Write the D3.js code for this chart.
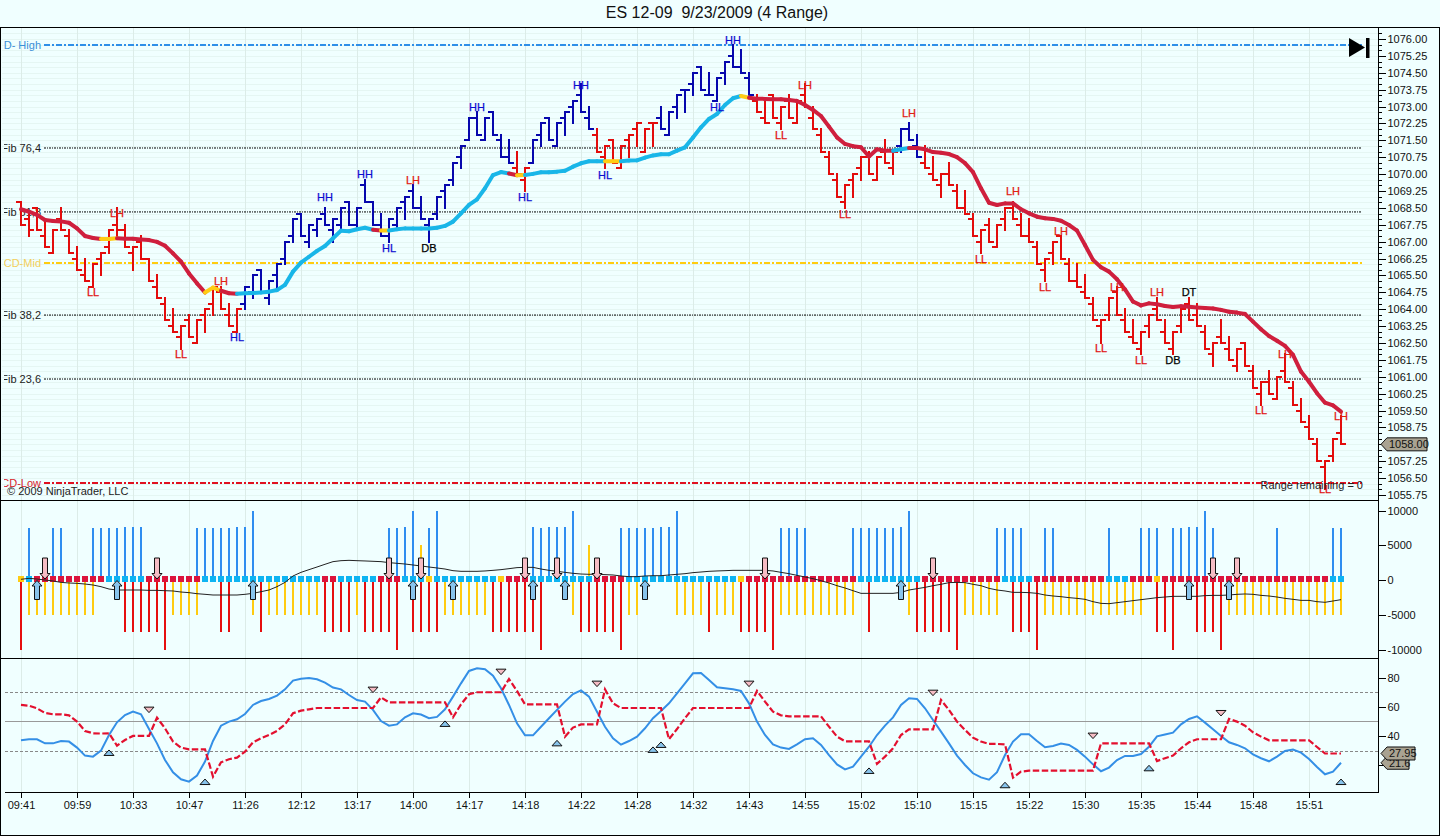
<!DOCTYPE html>
<html><head><meta charset="utf-8">
<script src="https://cdn.jsdelivr.net/npm/d3@7"></script>
<style>
html,body{margin:0;padding:0;background:#f0ffff;overflow:hidden}
svg{display:block}
text{font-family:"Liberation Sans",Arial,sans-serif}
</style></head><body>
<svg id="c" width="1440" height="836"></svg>
<script>
// ---------- data ----------
const titleText = "ES 12-09  9/23/2009 (4 Range)";
const timeLabels = ["09:41","09:59","10:33","10:47","11:26","12:12","13:17","14:00","14:17","14:18","14:22","14:28","14:32","14:43","14:55","15:02","15:10","15:15","15:22","15:30","15:35","15:44","15:48","15:51"];

const barHigh = [1068.75,1068.25,1068.5,1068,1067.5,1068.5,1067.5,1066.75,1066.25,1066,
1066.5,1067.5,1068.5,1067.75,1066.75,1067.25,1066.25,1065.5,1064.5,1064,
1063.25,1063.75,1063.5,1064,1065,1065,1064.25,1064,1065,1065.5,
1065.75,1065.25,1066,1067,1068,1068.25,1067.75,1068,1068.5,1068,
1068.5,1068.75,1068.5,1069.75,1068.75,1068.25,1068,1068.5,1069,1069.5,
1069,1068,1069,1069.5,1070.5,1071.25,1072.5,1072.75,1072.5,1072.75,
1071.75,1071.5,1071,1070.25,1071.5,1072.25,1072.5,1072.25,1072.75,1073.25,
1074,1073,1072,1071.25,1071.5,1071.25,1071.75,1072.25,1072,1072.25,
1073,1072.75,1073.5,1073.75,1074.5,1074.75,1074.5,1074.25,1075,1075.75,
1075.5,1074.5,1073.5,1073.25,1073.5,1073,1073.5,1073.25,1074,1073,
1072,1071,1070,1069.5,1070,1070.75,1071,1070.75,1071.5,1071,
1072,1072.25,1071.75,1071.25,1070.75,1070,1070.5,1069.5,1069.25,1068.25,
1067.5,1068,1067.75,1068.5,1068.75,1068.25,1068,1067,1066.25,1067,
1067.25,1066.25,1066,1065.5,1064.5,1063.5,1064.5,1065,1064,1063.5,
1063,1063.75,1064.5,1063.5,1063,1064,1064.5,1064.25,1063.25,1062.5,
1063.5,1062.75,1062.25,1062.5,1061.5,1060.75,1061.25,1061,1062,1060.75,
1060,1059.25,1058.25,1057.25,1058.25,1059.25];

const barLow = [1067.75,1067.25,1067.5,1066.75,1066.5,1067.5,1066.5,1065.75,1065.25,1065,
1065.5,1066.5,1067.25,1066.75,1065.75,1066.25,1065.25,1064.5,1063.5,1063,
1062.25,1062.75,1062.5,1063,1063.75,1064,1063.25,1063,1064,1064.5,
1064.75,1064.25,1065,1066,1067,1067.25,1066.75,1067.25,1067.75,1067,
1067.5,1067.75,1067.5,1068.75,1067.75,1067.25,1067,1067.5,1068,1068.5,
1068,1067,1068,1068.5,1069.5,1070.25,1071.5,1071.75,1071.5,1071.75,
1070.75,1070.5,1070,1069.25,1070.5,1071.25,1071.5,1071.25,1071.75,1072.25,
1072.75,1072,1071,1070.25,1070.5,1070.25,1070.75,1071.25,1071,1071.25,
1072,1071.75,1072.5,1072.75,1073.5,1073.75,1073.5,1073.25,1074,1074.75,
1074.5,1073.5,1072.75,1072.25,1072.5,1072,1072.5,1072.25,1073,1072,
1071,1070,1069,1068.5,1069,1069.75,1070,1069.75,1070.5,1070,
1071,1071.5,1070.75,1070.25,1069.75,1069,1069.5,1068.5,1068.25,1067.25,
1066.5,1067,1066.75,1067.5,1068,1067.25,1067,1066,1065.25,1066,
1066.25,1065.25,1065,1064.5,1063.5,1062.5,1063.5,1063.75,1063,1062.5,
1062,1062.75,1063.5,1062.5,1062,1063,1063.5,1063.25,1062.25,1061.5,
1062.5,1061.75,1061.25,1061.5,1060.5,1059.75,1060.25,1060,1060.75,1059.75,
1059,1058.25,1057.25,1056,1057.25,1058];

const barOpen = [1068.75,1068,1068.5,1067.25,1066.5,1068,1067.25,1066.25,1065.5,1065,
1066.25,1066.75,1067.75,1067.5,1066.5,1067,1066.25,1065,1064.25,1063.25,
1062.75,1063.5,1062.5,1063.75,1064.25,1064.75,1063.75,1063,1064.25,1064.75,
1065.75,1064.5,1065.5,1066.25,1067.25,1068.25,1067,1067.5,1068.25,1067.5,
1067.75,1068.75,1067.75,1069.5,1068.75,1067.75,1067.25,1067.75,1068.75,1069.25,
1068.5,1067.75,1068.25,1069.25,1069.75,1070.75,1071.5,1072.5,1071.5,1072.75,
1071.5,1070.75,1070.25,1069.75,1070.5,1071.75,1072.5,1071.25,1072.5,1073,
1073.5,1072.5,1071.75,1070.75,1071.5,1070.25,1071.5,1072,1071,1072.25,
1072.5,1071.75,1073,1073.75,1074,1074.75,1073.5,1073.25,1074.5,1075.25,
1074.75,1074.25,1073.25,1072.5,1073.5,1072.25,1073.25,1072.25,1073.5,1072.5,
1071.75,1070.75,1069.75,1068.75,1069.75,1070.25,1070.75,1069.75,1071,1070.25,
1071.25,1072,1071.25,1070.5,1070,1069.5,1070,1069.25,1068.5,1068,
1067,1067.75,1066.75,1068,1068.5,1067.75,1067.25,1066.75,1065.75,1066.5,
1067.25,1066,1065.25,1064.75,1064.25,1063.25,1063.75,1064.75,1063.5,1062.75,
1062.25,1063.25,1064,1063,1062.25,1063.25,1064.25,1063.75,1063,1062,
1062.75,1062.25,1061.5,1062.5,1061.25,1060.25,1060.75,1060,1061.25,1060.5,
1059.5,1058.75,1058,1057,1057.5,1058.5];

const barClose = [1067.75,1067.5,1067.5,1066.75,1067.5,1067.5,1066.5,1065.75,1065.25,1066,
1066.5,1067.5,1067.5,1066.75,1066.75,1066.25,1065.25,1064.5,1063.5,1063,
1063.25,1062.75,1063.5,1064,1065,1064,1063.25,1064,1065,1065.5,
1064.75,1065.25,1066,1067,1068,1067.25,1067.75,1068,1067.75,1068,
1068.5,1067.75,1068.5,1068.75,1067.75,1067.25,1068,1068.5,1069,1068.5,
1068,1068,1069,1069.5,1070.5,1071.25,1072.5,1071.75,1072.5,1071.75,
1070.75,1070.5,1070,1070.25,1071.5,1072.25,1071.5,1072.25,1072.75,1073.25,
1072.75,1072,1071,1071.25,1070.5,1071.25,1071.75,1072.25,1072,1072.25,
1072,1072.75,1073.5,1073.75,1074.5,1073.75,1073.5,1074.25,1075,1074.75,
1074.5,1073.5,1072.75,1072.25,1072.5,1073,1072.5,1073.25,1073,1072,
1071,1070,1069,1069.5,1070,1070.75,1070,1070.75,1070.5,1071,
1072,1071.5,1070.75,1070.25,1069.75,1070,1069.5,1068.5,1068.25,1067.25,
1067.5,1067,1067.75,1068.5,1068,1067.25,1067,1066,1066.25,1067,
1066.25,1065.25,1065,1064.5,1063.5,1063.5,1064.5,1063.75,1063,1062.5,
1063,1063.75,1063.5,1062.5,1063,1064,1063.5,1063.25,1062.25,1062.5,
1062.5,1061.75,1062.25,1061.5,1060.5,1060.75,1060.25,1061,1060.75,1059.75,
1059,1058.25,1057.25,1057.25,1058.25,1058];

const blueBarRanges = [[28,61],[64,71],[80,91],[110,112]];

const maValues = [1068.44,1068.33,1068.19,1067.96,1067.92,1067.90,1067.84,1067.59,1067.25,1067.16,
1067.12,1067.12,1067.15,1067.13,1067.13,1067.10,1067.07,1066.99,1066.82,1066.48,
1066.11,1065.59,1065.15,1064.74,1064.96,1064.82,1064.71,1064.69,1064.71,1064.72,
1064.74,1064.78,1064.85,1065.08,1065.67,1066.07,1066.33,1066.59,1066.81,1067.15,
1067.49,1067.46,1067.55,1067.62,1067.53,1067.50,1067.50,1067.55,1067.59,1067.59,
1067.58,1067.58,1067.62,1067.70,1067.89,1068.26,1068.63,1068.88,
1069.37,1069.96,1070.09,1070.03,1069.95,1069.96,1070.01,1070.08,1070.08,1070.11,
1070.15,1070.33,1070.48,1070.57,1070.57,1070.57,1070.57,1070.57,1070.60,1070.61,
1070.73,1070.83,1070.88,1070.88,1071.04,1071.19,1071.63,1072.08,1072.45,1072.67,
1073.07,1073.37,1073.47,1073.39,1073.35,1073.34,1073.32,1073.32,1073.29,1073.25,
1073.07,1072.85,1072.58,1072.11,1071.63,1071.34,1071.24,1071.19,1070.78,1071.10,
1071.04,1071.04,1071.10,1071.16,1071.16,1071.10,1070.98,1070.95,1070.89,1070.75,
1070.49,1070.09,1069.37,1068.73,1068.63,1068.70,1068.70,1068.44,1068.26,1068.11,
1068.04,1068.01,1067.93,1067.74,1067.49,1066.85,1066.19,1065.86,1065.67,1065.33,
1064.88,1064.34,1064.17,1064.26,1064.22,1064.14,1064.10,1064.13,1064.11,1064.08,
1064.05,1064.03,1063.97,1063.89,1063.85,1063.79,1063.45,1063.11,1062.81,1062.60,
1062.37,1061.97,1061.23,1060.78,1060.27,1059.85,1059.73,1059.45];

const maGoldRanges = [[10,12],[23,25],[45,46],[62,63],[73,75],[90,91]];
const maCyanRanges = [[27,44],[46,61],[63,73],[75,90],[109,111]];

const swingLabels = [["LL",9,1064.78],["LH",12,1068.26],["LL",20,1062.01],["LH",25,1065.25],["HL",27,1062.78],
["HH",38,1069.0],["HH",43,1070.0],["LH",49,1069.74],["HL",46,1066.7],["DB",51,1066.7],["HH",57,1073.0],
["HL",63,1069.0],["HH",70,1073.96],["HL",73,1069.96],["HH",89,1075.96],["HL",87,1072.97],["LH",98,1073.94],
["LL",95,1071.74],["LH",111,1072.7],["LL",103,1068.23],["LH",124,1069.25],["LL",120,1066.23],["LH",130,1067.47],
["LL",128,1064.97],["LL",135,1062.26],["LH",137,1064.97],["LH",142,1064.75],["DT",146,1064.75],["LL",140,1061.75],
["DB",144,1061.75],["LH",158,1062.0],["LL",155,1059.52],["LH",165,1059.27],["LL",163,1056.0]];

const levelNames = ["CD- High","Fib 76,4","Fib 61,8","CD-Mid","Fib 38,2","Fib 23,6","CD-Low"];
const levelPrices = [1075.73,1071.16,1068.32,1066.05,1063.74,1060.90,1056.28];
const levelColors = ["#2f8fe8","#000000","#000000","#ffcc10","#000000","#000000","#e01020"];
const levelTextColors = ["#3a8fd8","#222222","#222222","#f3cf5a","#222222","#222222","#d8242c"];
const levelDash = ["6,2,2,2","2,1,1,1","2,1,1,1","6,2,2,2","2,1,1,1","2,1,1,1","6,2,2,2"];
const levelWidth = [2,1,1,2,1,1,2];

const priceTicks = d3.range(0,28).map(k=>1055.75+0.75*k);
const lastPrice = 1058.00;

// volume panel
const volBlueIdx = [1,4,5,9,10,11,12,13,14,15,22,23,24,25,26,27,28,29,46,47,48,49,51,52,64,65,66,67,68,69,75,76,77,78,79,80,81,82,95,96,97,98,104,105,106,107,108,109,110,111,122,123,124,125,128,129,136,140,141,142,144,145,146,147,148,149,157,164,165];
const volBlueVal = [7500,7500,7500,7500,7500,7500,7500,7650,7650,7650,7500,7500,7500,7500,7500,7650,7650,10000,7500,7500,7650,10000,7500,10000,7650,7500,7650,7650,7650,10000,7500,7500,7500,7500,7500,7650,7650,10000,7500,7500,7500,7500,7500,7500,7500,7500,7500,7500,7650,10000,7500,7500,7500,7500,7500,7500,7500,7500,7500,7500,7500,7500,7650,7650,10000,7500,7500,7500,7500];
const volGoldUpIdx = [50,71];
const volGoldUpVal = [5000,5000];
const volGoldDownIdx = [1,2,3,4,5,6,7,8,9,19,20,21,22,29,31,32,33,34,35,36,37,42,53,54,55,56,57,58,69,76,77,82,83,84,85,87,88,89,95,96,97,98,99,100,101,102,103,104,111,118,119,120,121,122,128,129,130,131,132,133,134,135,136,137,138,139,140,151,152,153,154,155,156,157,158,159,160,161,162,163,164,165];
const volGoldDownVal = -5000;
const volRedIdx = [0,13,14,15,16,17,18,25,26,30,38,39,40,41,43,44,45,46,47,49,50,51,52,59,60,61,62,63,64,65,70,71,72,73,74,75,86,90,91,92,93,94,106,112,113,114,115,116,117,124,125,126,127,142,143,144,147,148,149,150];
const volRedVal = [-10000,-7500,-7500,-7500,-7500,-7500,-10000,-7500,-7500,-7500,-7500,-7500,-7500,-7500,-7500,-7500,-7500,-7500,-10000,-7500,-7500,-7500,-7500,-7500,-7500,-7500,-7500,-7500,-7500,-10000,-7500,-7500,-7500,-7500,-7500,-10000,-7500,-7500,-7500,-7500,-7500,-10000,-7500,-7500,-7500,-7500,-7500,-7500,-10000,-7500,-7500,-7500,-10000,-7500,-7500,-10000,-7500,-7500,-7500,-10000];
const trendGoldIdx = [0,51,60,90,142];
const trendCyanRanges = [[1,1],[11,15],[23,37],[40,44],[48,50],[52,59],[64,71],[76,89],[105,112],[123,126],[136,138],[164,165]];
const volLine = [100,240,140,0,-140,-340,-430,-480,-580,-720,-960,-1300,-1440,-1440,-1440,-1440,-1490,-1490,-1540,-1580,
-1730,-1820,-1970,-2060,-2160,-2160,-2160,-2160,-2060,-1920,-1680,-1440,-960,-340,580,1100,1490,1870,2260,2640,
2780,2830,2780,2740,2690,2640,2500,2400,2300,2160,2020,1870,1730,1580,1340,1250,1250,1250,1300,1390,
1490,1630,1780,1820,1820,1580,1390,1250,1100,960,860,820,820,770,720,580,480,480,580,620,
620,720,820,910,1060,1150,1250,1300,1340,1390,1390,1390,1390,1390,1300,1100,910,670,430,190,
-100,-430,-820,-1150,-1540,-1920,-1920,-1920,-1920,-1920,-1780,-1440,-1250,-1060,-820,-620,-380,-340,-380,-620,
-820,-1200,-1440,-1580,-1780,-1780,-1820,-1920,-2160,-2300,-2400,-2540,-2640,-2780,-3120,-3360,-3410,-3260,-3120,-2970,
-2830,-2690,-2540,-2450,-2350,-2350,-2350,-2350,-2250,-2210,-2210,-2160,-2060,-2010,-2060,-2210,-2300,-2450,-2640,-2780,
-2930,-2930,-3120,-3210,-3020,-2830];
const sellArrowIdx = [3,17,46,50,63,67,72,93,114,149,152];
const buyArrowIdx = [2,12,29,49,54,64,68,78,110,146,151];
const volTicks = [10000,5000,0,-5000,-10000];

// oscillator panel
const oscBlue = [37.0,37.7,37.7,34.9,34.9,36.5,36.1,32.0,26.5,25.8,29.9,40.6,49.3,54.3,56.6,54.8,44.7,34.9,23.5,15.1,
10.3,8.7,12.8,22.4,36.5,47.0,49.8,51.4,55.0,61.2,63.9,65.3,67.6,71.9,77.9,79.2,79.7,78.8,76.5,73.1,
71.9,68.0,64.6,63.5,57.8,50.2,47.0,47.9,52.7,55.5,54.6,52.1,53.0,58.2,66.9,76.0,84.5,86.3,
85.6,81.3,72.6,61.2,48.6,40.4,40.4,46.3,52.1,57.8,63.5,68.7,71.2,66.9,56.6,46.3,38.4,34.0,36.5,39.5,
45.2,52.1,57.1,62.3,69.2,76.0,82.9,83.1,78.3,73.3,72.6,71.9,70.8,62.3,49.8,40.6,34.2,32.0,31.1,34.2,
37.7,38.4,33.8,26.9,20.5,17.1,18.9,25.8,32.6,40.6,47.0,52.7,61.2,65.8,65.3,58.9,50.9,42.9,34.9,26.5,
20.1,14.4,11.6,10.0,15.1,26.9,36.1,41.1,41.1,36.5,32.2,33.1,34.7,33.8,30.4,25.8,20.5,15.8,18.3,23.5,
26.3,26.3,27.6,32.6,39.7,40.9,42.2,47.9,51.6,53.4,49.1,44.5,40.0,35.6,33.8,31.5,27.4,24.7,22.6,25.8,
29.7,30.6,28.5,24.2,18.7,13.7,15.5,21.6];
const oscRed = [61.2,60.7,58.9,55.7,54.8,54.8,54.1,49.8,43.4,41.8,41.6,41.8,33.3,37.2,40.0,40.0,40.0,52.5,45.2,36.1,
32.0,30.8,30.8,30.8,12.1,21.9,24.0,25.1,29.2,35.6,38.4,40.6,43.4,47.9,55.5,57.3,58.2,59.1,59.1,59.1,
59.1,59.1,59.1,59.1,59.1,66.4,63.0,63.0,63.0,63.0,63.0,63.0,63.0,63.0,52.7,61.6,68.5,69.9,
69.9,69.9,69.9,79.0,70.8,61.6,61.6,61.6,61.6,61.6,39.5,45.7,47.9,47.9,47.9,71.9,62.3,59.1,59.1,59.1,
59.1,59.1,59.1,37.7,44.7,52.1,59.1,59.1,59.1,59.1,59.1,59.1,59.1,59.1,70.8,63.5,56.6,54.1,53.4,53.4,
53.4,53.4,53.4,46.3,39.5,36.3,36.3,36.3,36.3,20.8,25.8,31.5,40.6,44.5,44.5,44.5,44.5,64.6,57.8,49.8,
44.1,38.8,36.1,34.5,34.5,34.2,11.4,15.5,16.2,16.2,16.2,16.2,16.2,16.2,16.2,16.2,16.2,34.9,34.9,34.9,
34.9,34.9,34.9,34.9,22.8,24.7,26.5,31.5,35.6,37.7,37.7,37.7,37.7,51.6,49.8,47.0,42.5,39.5,37.0,37.0,
37.0,37.0,37.0,37.0,32.4,27.95,27.95,27.95];
const oscUpIdx = [11,23,53,67,79,80,106,123,141,165];
const oscUpVal = [28.3,8.4,48.2,34.9,30.4,33.8,16.0,6.2,17.8,8.4];
const oscDownIdx = [16,44,60,72,91,114,134,150];
const oscDownVal = [58.0,71.7,84.0,75.8,75.8,69.6,40.2,55.7];
const oscTicks = [80,60,40,20];
const oscLevelsDashed = [70,30];
const oscLevelSolid = 50;
const oscTags = [[27.95,"27.95"],[21.6,"21.6"]];

// ---------- layout ----------
const W=1440,H=836, axisX=1378.5, leftX=2;
const nBars = barHigh.length;
const tickEvery = 7;
const x = d3.scaleLinear().domain([0,nBars-1]).range([21,1341]);
const yP = d3.scaleLinear().domain([1076,1055.75]).range([39,495]);
const yV = d3.scaleLinear().domain([10000,-10000]).range([510.5,649.5]);
const yO = d3.scaleLinear().domain([80,20]).range([677.5,765.1]);
const topP=27.5, botP=500.5, botV=658.5, botO=792.5;

const C = {red:"#e30c0c",navy:"#0707ad",crimson:"#cf1f3d",cyan:"#19b6e8",gold:"#ffcc14",sqRed:"#dc143c",sqCyan:"#0db4f2",
  vBlue:"#2f8df0",vGold:"#ffcb10",vRed:"#e60f0f",gridH:"#e5f6f3",gridV:"#dcecE8",pink:"#f5bcc4",lblue:"#88c4ec"};

const svg=d3.select("#c");
svg.append("rect").attr("width",W).attr("height",H).attr("fill","#f0ffff");
const defs=svg.append("defs");
defs.append("clipPath").attr("id","lab").append("rect").attr("x",4).attr("y",28).attr("width",axisX-4).attr("height",472);
defs.append("clipPath").attr("id","pp").append("rect").attr("x",1).attr("y",28).attr("width",axisX-1).attr("height",472);

// grids
const gridG=svg.append("g").attr("stroke-width",1).attr("shape-rendering","crispEdges");
gridG.append("g").attr("stroke",C.gridH).selectAll("line").data(d3.range(0,83).map(k=>1055.75+0.25*k)).join("line")
  .attr("x1",leftX).attr("x2",axisX).attr("y1",d=>Math.round(yP(d))+.5).attr("y2",d=>Math.round(yP(d))+.5);
const tickIdx=timeLabels.map((_,k)=>k*tickEvery);
[[topP,botP],[botP,botV],[botV,botO]].forEach(([a,b])=>{
  gridG.append("g").attr("stroke",C.gridV).selectAll("line").data(tickIdx).join("line")
   .attr("x1",d=>Math.round(x(d))+.5).attr("x2",d=>Math.round(x(d))+.5).attr("y1",a).attr("y2",b);
});

// level lines
const lev=svg.append("g");
levelPrices.forEach((p,k)=>{
  lev.append("line").attr("x1",44).attr("x2",1362).attr("y1",yP(p)).attr("y2",yP(p))
   .attr("stroke",levelColors[k]).attr("stroke-width",levelWidth[k]).attr("stroke-dasharray",levelDash[k]);
  lev.append("text").attr("x",41).attr("y",yP(p)+4).attr("text-anchor","end").attr("font-size",11)
   .attr("fill",levelTextColors[k]).attr("clip-path","url(#lab)").text(levelNames[k]);
});

// price bars
const isBlue=i=>blueBarRanges.some(([a,b])=>i>=a&&i<=b);
const bars=svg.append("g").attr("stroke-width",2).attr("shape-rendering","crispEdges").attr("clip-path","url(#pp)");
const bg=bars.selectAll("g").data(d3.range(nBars)).join("g").attr("stroke",i=>isBlue(i)?C.navy:C.red);
bg.append("line").attr("x1",i=>x(i)).attr("x2",i=>x(i)).attr("y1",i=>yP(barHigh[i])-1).attr("y2",i=>yP(barLow[i])+1);
bg.append("line").attr("x1",i=>x(i)-5).attr("x2",i=>x(i)).attr("y1",i=>yP(barOpen[i])).attr("y2",i=>yP(barOpen[i]));
bg.append("line").attr("x1",i=>x(i)).attr("x2",i=>x(i)+5).attr("y1",i=>yP(barClose[i])).attr("y2",i=>yP(barClose[i]));

// moving average, coloured in pieces
const inR=(r,i)=>r.some(([a,b])=>i>=a&&i<b);
const maG=svg.append("g").attr("fill","none").attr("stroke-width",4).attr("stroke-linecap","round");
d3.range(nBars-1).forEach(i=>{
  const col=inR(maGoldRanges,i)?C.gold:inR(maCyanRanges,i)?C.cyan:C.crimson;
  maG.append("line").attr("x1",x(i)).attr("x2",x(i+1)).attr("y1",yP(maValues[i])).attr("y2",yP(maValues[i+1])).attr("stroke",col);
});

// swing labels
const lblCol={HH:"#0b0bd0",HL:"#0b0bd0",LL:"#e01010",LH:"#e02010",DB:"#000",DT:"#000"};
svg.append("g").selectAll("text").data(swingLabels).join("text")
 .attr("x",d=>x(d[1])).attr("y",d=>yP(d[2])+4).attr("text-anchor","middle").attr("font-size",11)
 .attr("fill",d=>lblCol[d[0]]).attr("stroke",d=>lblCol[d[0]]).attr("stroke-width",.25).text(d=>d[0]);

// texts in price panel
svg.append("text").attr("x",7).attr("y",495).attr("font-size",11).attr("fill","#222").text("\u00a9 2009 NinjaTrader, LLC");
svg.append("text").attr("x",1363).attr("y",489).attr("text-anchor","end").attr("font-size",11).attr("fill","#222").text("Range remaining = 0");

// go-to-end icon (fixed chrome)
svg.append("path").attr("d","M1349,38L1365,47.5L1349,57Z").attr("fill","#000");
svg.append("rect").attr("x",1366).attr("y",38).attr("width",3.5).attr("height",20).attr("fill","#000");

// volume panel
const vb=svg.append("g").attr("stroke-width",2).attr("shape-rendering","crispEdges");
function vbars(idx,vals,col){
  vb.append("g").attr("stroke",col).selectAll("line").data(idx).join("line")
   .attr("x1",d=>x(d)).attr("x2",d=>x(d)).attr("y1",yV(0))
   .attr("y2",(d,k)=>yV(Array.isArray(vals)?vals[k]:vals));
}
vbars(volGoldDownIdx,volGoldDownVal,C.vGold);
vbars(volGoldUpIdx,volGoldUpVal,C.vGold);
vbars(volRedIdx,volRedVal,C.vRed);
vbars(volBlueIdx,volBlueVal,C.vBlue);
const sqCol=i=>trendGoldIdx.includes(i)?"#ffcc14":trendCyanRanges.some(([a,b])=>i>=a&&i<=b)?C.sqCyan:C.sqRed;
svg.append("g").attr("shape-rendering","crispEdges").selectAll("rect").data(d3.range(nBars)).join("rect")
 .attr("x",i=>x(i)-3).attr("y",Math.round(yV(0))-4).attr("width",6).attr("height",6).attr("fill",sqCol);
svg.append("path").datum(volLine).attr("fill","none").attr("stroke","#222").attr("stroke-width",1)
 .attr("d",d3.line().x((d,i)=>x(i)).y(d=>yV(d)));
const arrowG=svg.append("g").attr("stroke","#111").attr("stroke-width",1);
arrowG.append("g").selectAll("path").data(sellArrowIdx).join("path")
 .attr("transform",d=>`translate(${x(d)},${yV(0)-1})`).attr("fill",C.pink)
 .attr("d","M-2.5,-21L2.5,-21L2.5,-5.5L5,-5.5L0,0L-5,-5.5L-2.5,-5.5Z");
arrowG.append("g").selectAll("path").data(buyArrowIdx).join("path")
 .attr("transform",d=>`translate(${x(d)},${yV(0)+0.5})`).attr("fill",C.lblue)
 .attr("d","M-2.5,19L2.5,19L2.5,5.5L5,5.5L0,0L-5,5.5L-2.5,5.5Z");

// oscillator
const oscG=svg.append("g");
oscLevelsDashed.forEach(v=>oscG.append("line").attr("x1",leftX+3).attr("x2",axisX).attr("y1",Math.round(yO(v))+.5).attr("y2",Math.round(yO(v))+.5)
  .attr("stroke","#888").attr("stroke-dasharray","3,2"));
oscG.append("line").attr("x1",leftX+3).attr("x2",axisX).attr("y1",Math.round(yO(oscLevelSolid))+.5).attr("y2",Math.round(yO(oscLevelSolid))+.5).attr("stroke","#999");
const lineO=d3.line().x((d,i)=>x(i)).y(d=>yO(d));
svg.append("path").datum(oscBlue).attr("fill","none").attr("stroke","#348fe6").attr("stroke-width",2).attr("d",lineO);
svg.append("path").datum(oscRed).attr("fill","none").attr("stroke","#e3102f").attr("stroke-width",2.2).attr("stroke-dasharray","6.5,2.5").attr("d",lineO);
const tri=svg.append("g").attr("stroke","#111").attr("stroke-width",1);
tri.append("g").selectAll("path").data(oscUpIdx).join("path")
 .attr("transform",(d,k)=>`translate(${x(d)},${yO(oscUpVal[k])})`).attr("fill",C.lblue).attr("d","M-5,2.5L5,2.5L0,-3Z");
tri.append("g").selectAll("path").data(oscDownIdx).join("path")
 .attr("transform",(d,k)=>`translate(${x(d)},${yO(oscDownVal[k])})`).attr("fill",C.pink).attr("d","M-5,-2.5L5,-2.5L0,3Z");

// frames
const fr=svg.append("g").attr("stroke","#000").attr("stroke-width",1).attr("shape-rendering","crispEdges");
[[0,W,topP],[0,axisX,botP],[0,axisX,botV],[5,axisX,botO]].forEach(([a,b,y])=>fr.append("line").attr("x1",a).attr("x2",b).attr("y1",y).attr("y2",y));
fr.append("line").attr("x1",axisX).attr("x2",axisX).attr("y1",topP).attr("y2",botO);
fr.append("rect").attr("x",.5).attr("y",topP).attr("width",W-1).attr("height",H-topP-.5).attr("fill","none");

// axes
function styleAxis(g){g.select(".domain").remove();g.selectAll("line").attr("stroke","#000").attr("shape-rendering","crispEdges");
  g.selectAll("text").attr("font-size",11).attr("fill","#111").attr("font-family",'"Liberation Sans",Arial,sans-serif');}
svg.append("g").attr("transform",`translate(${axisX},0)`)
 .call(d3.axisRight(yP).tickValues(priceTicks).tickFormat(d3.format(".2f")).tickSize(7).tickPadding(2)).call(styleAxis);
const minorP=d3.range(0,83).map(k=>1055.75+0.25*k).filter(v=>!priceTicks.includes(v));
svg.append("g").attr("transform",`translate(${axisX},0)`).call(d3.axisRight(yP).tickValues(minorP).tickFormat("").tickSize(3)).call(styleAxis);
svg.append("g").attr("transform",`translate(${axisX},0)`)
 .call(d3.axisRight(yV).tickValues(volTicks).tickFormat(d3.format("d")).tickSize(7).tickPadding(2)).call(styleAxis)
 .selectAll("text").text(d=>d<0?"-"+Math.abs(d):d);
svg.append("g").attr("transform",`translate(${axisX},0)`)
 .call(d3.axisRight(yO).tickValues(oscTicks).tickFormat(d3.format("d")).tickSize(7).tickPadding(2)).call(styleAxis);
svg.append("g").attr("transform",`translate(0,${botO})`)
 .call(d3.axisBottom(x).tickValues(tickIdx).tickFormat((d,k)=>timeLabels[k]).tickSize(5).tickPadding(4)).call(styleAxis);

// value tags on the axis
function tag(y,w,label){
  const g=svg.append("g").attr("transform",`translate(1381,${y})`);
  g.append("path").attr("d",`M0,0L6,-6.5L${w},-6.5L${w},6.5L6,6.5Z`).attr("fill","#a9a392").attr("stroke","#111");
  g.append("text").attr("x",8).attr("y",4).attr("font-size",11).attr("fill","#111").text(label);
}
tag(yO(oscTags[1][0]),28,oscTags[1][1]);
tag(yO(oscTags[0][0]),34,oscTags[0][1]);
tag(yP(lastPrice),46,d3.format(".2f")(lastPrice));

// title
svg.append("text").attr("x",717).attr("y",18).attr("text-anchor","middle").attr("font-size",16).attr("fill","#111")
 .attr("xml:space","preserve").style("white-space","pre").text(titleText);
</script>
</body></html>
